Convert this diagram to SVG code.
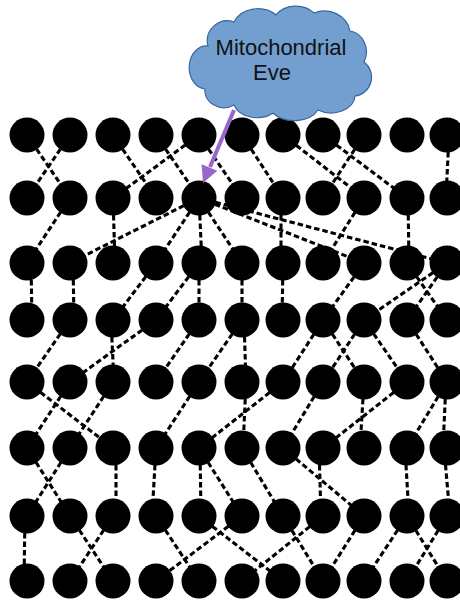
<svg xmlns="http://www.w3.org/2000/svg" width="460" height="600" viewBox="0 0 460 600">
<style>
.c{stroke:#000;stroke-width:3.1;stroke-dasharray:5.5 3;fill:none}
.n{fill:#000}
.t{font-family:"Liberation Sans",Arial,sans-serif;font-size:22px;fill:#111;text-anchor:middle}
</style>
<rect width="460" height="600" fill="#fff"/>
<g id="connectors">
<line class="c" x1="27" y1="135" x2="70" y2="198"/>
<line class="c" x1="70" y1="135" x2="27" y2="198"/>
<line class="c" x1="199" y1="135" x2="113" y2="198"/>
<line class="c" x1="113" y1="135" x2="156" y2="198"/>
<line class="c" x1="156" y1="135" x2="199" y2="198"/>
<line class="c" x1="199" y1="135" x2="242" y2="198"/>
<line class="c" x1="242" y1="135" x2="283" y2="198"/>
<line class="c" x1="364" y1="135" x2="323" y2="198"/>
<line class="c" x1="283" y1="135" x2="364" y2="198"/>
<line class="c" x1="323" y1="135" x2="407" y2="198"/>
<line class="c" x1="449" y1="135" x2="446" y2="198"/>

<line class="c" x1="70" y1="198" x2="27" y2="263"/>
<line class="c" x1="199" y1="198" x2="70" y2="263"/>
<line class="c" x1="113" y1="198" x2="115" y2="263"/>
<line class="c" x1="199" y1="198" x2="156" y2="263"/>
<line class="c" x1="199" y1="198" x2="202" y2="263"/>
<line class="c" x1="199" y1="198" x2="242" y2="263"/>
<line class="c" x1="281" y1="198" x2="281" y2="263"/>
<line class="c" x1="364" y1="198" x2="323" y2="263"/>
<line class="c" x1="199" y1="198" x2="364" y2="263"/>
<line class="c" x1="408" y1="198" x2="409" y2="263"/>
<line class="c" x1="199" y1="198" x2="447" y2="263"/>

<line class="c" x1="31" y1="263" x2="32" y2="320"/>
<line class="c" x1="73" y1="263" x2="74" y2="320"/>
<line class="c" x1="156" y1="263" x2="113" y2="320"/>
<line class="c" x1="199" y1="263" x2="156" y2="320"/>
<line class="c" x1="199" y1="263" x2="199" y2="320"/>
<line class="c" x1="242" y1="263" x2="242" y2="320"/>
<line class="c" x1="283" y1="263" x2="282" y2="320"/>
<line class="c" x1="364" y1="263" x2="323" y2="320"/>
<line class="c" x1="447" y1="263" x2="364" y2="320"/>
<line class="c" x1="447" y1="263" x2="407" y2="320"/>
<line class="c" x1="407" y1="263" x2="447" y2="320"/>

<line class="c" x1="70" y1="320" x2="27" y2="382"/>
<line class="c" x1="156" y1="320" x2="70" y2="382"/>
<line class="c" x1="111" y1="320" x2="114" y2="382"/>
<line class="c" x1="199" y1="320" x2="156" y2="382"/>
<line class="c" x1="242" y1="320" x2="199" y2="382"/>
<line class="c" x1="244" y1="320" x2="246" y2="382"/>
<line class="c" x1="323" y1="320" x2="283" y2="382"/>
<line class="c" x1="364" y1="320" x2="323" y2="382"/>
<line class="c" x1="323" y1="320" x2="364" y2="382"/>
<line class="c" x1="364" y1="320" x2="407" y2="382"/>
<line class="c" x1="407" y1="320" x2="447" y2="382"/>

<line class="c" x1="70" y1="382" x2="27" y2="448"/>
<line class="c" x1="113" y1="382" x2="70" y2="448"/>
<line class="c" x1="27" y1="382" x2="113" y2="448"/>
<line class="c" x1="199" y1="382" x2="156" y2="448"/>
<line class="c" x1="283" y1="382" x2="199" y2="448"/>
<line class="c" x1="246" y1="382" x2="243" y2="448"/>
<line class="c" x1="323" y1="382" x2="283" y2="448"/>
<line class="c" x1="407" y1="382" x2="323" y2="448"/>
<line class="c" x1="364" y1="382" x2="360" y2="448"/>
<line class="c" x1="447" y1="382" x2="407" y2="448"/>
<line class="c" x1="446" y1="382" x2="443" y2="448"/>

<line class="c" x1="70" y1="448" x2="27" y2="516"/>
<line class="c" x1="27" y1="448" x2="70" y2="516"/>
<line class="c" x1="116" y1="448" x2="116" y2="516"/>
<line class="c" x1="156" y1="448" x2="152" y2="516"/>
<line class="c" x1="200" y1="448" x2="201" y2="516"/>
<line class="c" x1="199" y1="448" x2="242" y2="516"/>
<line class="c" x1="242" y1="448" x2="283" y2="516"/>
<line class="c" x1="319" y1="448" x2="321" y2="516"/>
<line class="c" x1="283" y1="448" x2="364" y2="516"/>
<line class="c" x1="405" y1="448" x2="409" y2="516"/>
<line class="c" x1="444" y1="448" x2="450" y2="516"/>

<line class="c" x1="25" y1="516" x2="24" y2="581"/>
<line class="c" x1="113" y1="516" x2="70" y2="581"/>
<line class="c" x1="70" y1="516" x2="113" y2="581"/>
<line class="c" x1="242" y1="516" x2="156" y2="581"/>
<line class="c" x1="156" y1="516" x2="199" y2="581"/>
<line class="c" x1="323" y1="516" x2="242" y2="581"/>
<line class="c" x1="199" y1="516" x2="283" y2="581"/>
<line class="c" x1="283" y1="516" x2="323" y2="581"/>
<line class="c" x1="364" y1="516" x2="323" y2="581"/>
<line class="c" x1="407" y1="516" x2="364" y2="581"/>
<line class="c" x1="447" y1="516" x2="407" y2="581"/>
<line class="c" x1="407" y1="516" x2="447" y2="581"/>
</g>
<g id="nodes">
<g id="n0-0"><circle class="n" cx="27" cy="135" r="17.5"/></g>
<g id="n0-1"><circle class="n" cx="70" cy="135" r="17.5"/></g>
<g id="n0-2"><circle class="n" cx="113" cy="135" r="17.5"/></g>
<g id="n0-3"><circle class="n" cx="156" cy="135" r="17.5"/></g>
<g id="n0-4"><circle class="n" cx="199" cy="135" r="17.5"/></g>
<g id="n0-5"><circle class="n" cx="242" cy="135" r="17.5"/></g>
<g id="n0-6"><circle class="n" cx="283" cy="135" r="17.5"/></g>
<g id="n0-7"><circle class="n" cx="323" cy="135" r="17.5"/></g>
<g id="n0-8"><circle class="n" cx="364" cy="135" r="17.5"/></g>
<g id="n0-9"><circle class="n" cx="407" cy="135" r="17.5"/></g>
<g id="n0-10"><circle class="n" cx="447" cy="135" r="17.5"/></g>
<g id="n1-0"><circle class="n" cx="27" cy="198" r="17.5"/></g>
<g id="n1-1"><circle class="n" cx="70" cy="198" r="17.5"/></g>
<g id="n1-2"><circle class="n" cx="113" cy="198" r="17.5"/></g>
<g id="n1-3"><circle class="n" cx="156" cy="198" r="17.5"/></g>
<g id="n1-4"><circle class="n" cx="199" cy="198" r="17.5"/></g>
<g id="n1-5"><circle class="n" cx="242" cy="198" r="17.5"/></g>
<g id="n1-6"><circle class="n" cx="283" cy="198" r="17.5"/></g>
<g id="n1-7"><circle class="n" cx="323" cy="198" r="17.5"/></g>
<g id="n1-8"><circle class="n" cx="364" cy="198" r="17.5"/></g>
<g id="n1-9"><circle class="n" cx="407" cy="198" r="17.5"/></g>
<g id="n1-10"><circle class="n" cx="447" cy="198" r="17.5"/></g>
<g id="n2-0"><circle class="n" cx="27" cy="263" r="17.5"/></g>
<g id="n2-1"><circle class="n" cx="70" cy="263" r="17.5"/></g>
<g id="n2-2"><circle class="n" cx="113" cy="263" r="17.5"/></g>
<g id="n2-3"><circle class="n" cx="156" cy="263" r="17.5"/></g>
<g id="n2-4"><circle class="n" cx="199" cy="263" r="17.5"/></g>
<g id="n2-5"><circle class="n" cx="242" cy="263" r="17.5"/></g>
<g id="n2-6"><circle class="n" cx="283" cy="263" r="17.5"/></g>
<g id="n2-7"><circle class="n" cx="323" cy="263" r="17.5"/></g>
<g id="n2-8"><circle class="n" cx="364" cy="263" r="17.5"/></g>
<g id="n2-9"><circle class="n" cx="407" cy="263" r="17.5"/></g>
<g id="n2-10"><circle class="n" cx="447" cy="263" r="17.5"/></g>
<g id="n3-0"><circle class="n" cx="27" cy="320" r="17.5"/></g>
<g id="n3-1"><circle class="n" cx="70" cy="320" r="17.5"/></g>
<g id="n3-2"><circle class="n" cx="113" cy="320" r="17.5"/></g>
<g id="n3-3"><circle class="n" cx="156" cy="320" r="17.5"/></g>
<g id="n3-4"><circle class="n" cx="199" cy="320" r="17.5"/></g>
<g id="n3-5"><circle class="n" cx="242" cy="320" r="17.5"/></g>
<g id="n3-6"><circle class="n" cx="283" cy="320" r="17.5"/></g>
<g id="n3-7"><circle class="n" cx="323" cy="320" r="17.5"/></g>
<g id="n3-8"><circle class="n" cx="364" cy="320" r="17.5"/></g>
<g id="n3-9"><circle class="n" cx="407" cy="320" r="17.5"/></g>
<g id="n3-10"><circle class="n" cx="447" cy="320" r="17.5"/></g>
<g id="n4-0"><circle class="n" cx="27" cy="382" r="17.5"/></g>
<g id="n4-1"><circle class="n" cx="70" cy="382" r="17.5"/></g>
<g id="n4-2"><circle class="n" cx="113" cy="382" r="17.5"/></g>
<g id="n4-3"><circle class="n" cx="156" cy="382" r="17.5"/></g>
<g id="n4-4"><circle class="n" cx="199" cy="382" r="17.5"/></g>
<g id="n4-5"><circle class="n" cx="242" cy="382" r="17.5"/></g>
<g id="n4-6"><circle class="n" cx="283" cy="382" r="17.5"/></g>
<g id="n4-7"><circle class="n" cx="323" cy="382" r="17.5"/></g>
<g id="n4-8"><circle class="n" cx="364" cy="382" r="17.5"/></g>
<g id="n4-9"><circle class="n" cx="407" cy="382" r="17.5"/></g>
<g id="n4-10"><circle class="n" cx="447" cy="382" r="17.5"/></g>
<g id="n5-0"><circle class="n" cx="27" cy="448" r="17.5"/></g>
<g id="n5-1"><circle class="n" cx="70" cy="448" r="17.5"/></g>
<g id="n5-2"><circle class="n" cx="113" cy="448" r="17.5"/></g>
<g id="n5-3"><circle class="n" cx="156" cy="448" r="17.5"/></g>
<g id="n5-4"><circle class="n" cx="199" cy="448" r="17.5"/></g>
<g id="n5-5"><circle class="n" cx="242" cy="448" r="17.5"/></g>
<g id="n5-6"><circle class="n" cx="283" cy="448" r="17.5"/></g>
<g id="n5-7"><circle class="n" cx="323" cy="448" r="17.5"/></g>
<g id="n5-8"><circle class="n" cx="364" cy="448" r="17.5"/></g>
<g id="n5-9"><circle class="n" cx="407" cy="448" r="17.5"/></g>
<g id="n5-10"><circle class="n" cx="447" cy="448" r="17.5"/></g>
<g id="n6-0"><circle class="n" cx="27" cy="516" r="17.5"/></g>
<g id="n6-1"><circle class="n" cx="70" cy="516" r="17.5"/></g>
<g id="n6-2"><circle class="n" cx="113" cy="516" r="17.5"/></g>
<g id="n6-3"><circle class="n" cx="156" cy="516" r="17.5"/></g>
<g id="n6-4"><circle class="n" cx="199" cy="516" r="17.5"/></g>
<g id="n6-5"><circle class="n" cx="242" cy="516" r="17.5"/></g>
<g id="n6-6"><circle class="n" cx="283" cy="516" r="17.5"/></g>
<g id="n6-7"><circle class="n" cx="323" cy="516" r="17.5"/></g>
<g id="n6-8"><circle class="n" cx="364" cy="516" r="17.5"/></g>
<g id="n6-9"><circle class="n" cx="407" cy="516" r="17.5"/></g>
<g id="n6-10"><circle class="n" cx="447" cy="516" r="17.5"/></g>
<g id="n7-0"><circle class="n" cx="27" cy="581" r="17.5"/></g>
<g id="n7-1"><circle class="n" cx="70" cy="581" r="17.5"/></g>
<g id="n7-2"><circle class="n" cx="113" cy="581" r="17.5"/></g>
<g id="n7-3"><circle class="n" cx="156" cy="581" r="17.5"/></g>
<g id="n7-4"><circle class="n" cx="199" cy="581" r="17.5"/></g>
<g id="n7-5"><circle class="n" cx="242" cy="581" r="17.5"/></g>
<g id="n7-6"><circle class="n" cx="283" cy="581" r="17.5"/></g>
<g id="n7-7"><circle class="n" cx="323" cy="581" r="17.5"/></g>
<g id="n7-8"><circle class="n" cx="364" cy="581" r="17.5"/></g>
<g id="n7-9"><circle class="n" cx="407" cy="581" r="17.5"/></g>
<g id="n7-10"><circle class="n" cx="447" cy="581" r="17.5"/></g>
</g>
<g id="eve-cloud">
<path d="M208,46 A20,20 0 0 1 234,22 A26,22 0 0 1 276,15 A24,20 0 0 1 314,13 A26,24 0 0 1 350,31 A19,21 0 0 1 364,62 A19,19 0 0 1 355,96 A24,18 0 0 1 318,110 A26,18 0 0 1 273,113 A24,18 0 0 1 234,105 A19,17 0 0 1 205,89 A16,20 0 0 1 208,46 Z" fill="#729fcf" stroke="#3465a4" stroke-width="1.2"/>
<text class="t" x="281" y="55">Mitochondrial</text>
<text class="t" x="272" y="80">Eve</text>
</g>
<g id="eve-arrow">
<line x1="234" y1="110" x2="210" y2="167" stroke="#9966cc" stroke-width="4"/>
<polygon points="203,183 217.3,170.8 201.6,164.3" fill="#9966cc"/>
</g>
</svg>
